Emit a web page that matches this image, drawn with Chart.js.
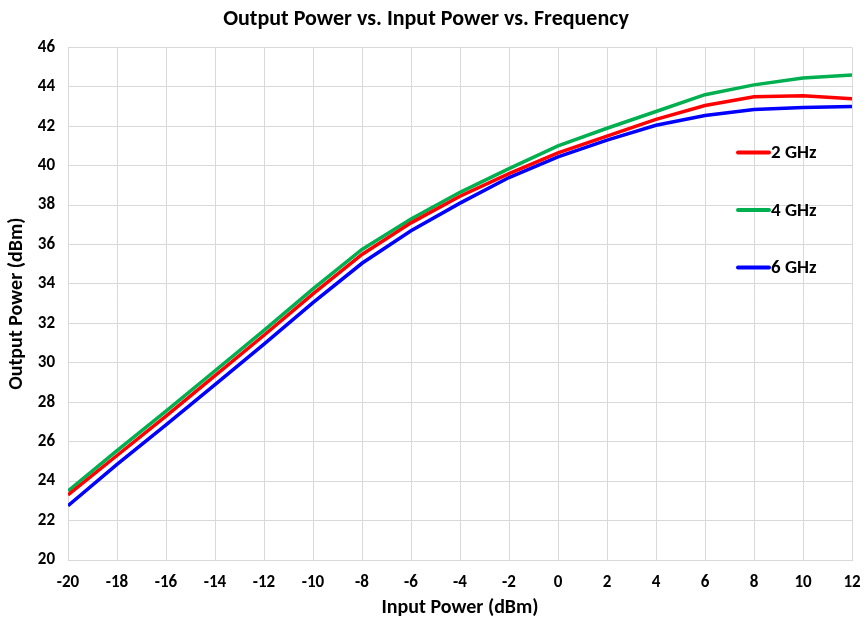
<!DOCTYPE html>
<html>
<head>
<meta charset="utf-8">
<script src="https://cdn.jsdelivr.net/npm/chart.js@4/dist/chart.umd.min.js"></script>
<style>
  body { margin: 0; background: #fff; }
  #wrap { width: 866px; height: 624px; }
</style>
</head>
<body>
<div id="wrap"><canvas id="pout-vs-pin" width="866" height="624"></canvas></div>
<script>
// input power sweep (dBm)
var inputPower = [-20, -18, -16, -14, -12, -10, -8, -6, -4, -2, 0, 2, 4, 6, 8, 10, 12];

// output power (dBm) per frequency
var out2GHz = [23.3, 25.3, 27.3, 29.35, 31.4, 33.5, 35.5, 37.1, 38.45, 39.6, 40.65, 41.5, 42.35, 43.05, 43.5, 43.55, 43.4];
var out4GHz = [23.5, 25.55, 27.55, 29.6, 31.65, 33.75, 35.75, 37.3, 38.65, 39.85, 41.0, 41.9, 42.75, 43.6, 44.1, 44.45, 44.6];
var out6GHz = [22.75, 24.85, 26.85, 28.9, 30.95, 33.05, 35.05, 36.7, 38.1, 39.4, 40.45, 41.3, 42.05, 42.55, 42.85, 42.95, 43.0];

var seriesLabels = ["2 GHz", "4 GHz", "6 GHz"];
var seriesColors = ["#ff0000", "#00b050", "#0000ff"];

var fontFamily = "Carlito, 'Liberation Sans Narrow', 'Open Sans', sans-serif";
var gridColor = "#d9d9d9";

function toPoints(ys) {
  return inputPower.map(function (x, i) { return { x: x, y: ys[i] }; });
}

// legend sits inside the plot, to the right
var insideLegend = {
  id: 'insideLegend',
  afterDatasetsDraw: function (chart) {
    var ctx = chart.ctx;
    var area = chart.chartArea;
    ctx.save();
    chart.data.datasets.forEach(function (ds, i) {
      var y = area.top + 105 + i * 57.5;
      ctx.strokeStyle = ds.borderColor;
      ctx.lineWidth = 4;
      ctx.lineCap = 'round';
      ctx.beginPath();
      ctx.moveTo(area.right - 114, y);
      ctx.lineTo(area.right - 83, y);
      ctx.stroke();
      ctx.fillStyle = '#000';
      ctx.font = "bold 19px " + fontFamily;
      ctx.textBaseline = 'middle';
      ctx.fillText(ds.label, area.right - 81, y + 1);
    });
    ctx.restore();
  }
};

var ctx = document.getElementById("pout-vs-pin");
var chart = new Chart(ctx, {
  type: 'line',
  data: {
    datasets: [
      { label: seriesLabels[0], data: toPoints(out2GHz), borderColor: seriesColors[0] },
      { label: seriesLabels[1], data: toPoints(out4GHz), borderColor: seriesColors[1] },
      { label: seriesLabels[2], data: toPoints(out6GHz), borderColor: seriesColors[2] }
    ]
  },
  options: {
    responsive: false,
    animation: false,
    layout: { padding: { left: 0, right: 14, top: 0, bottom: 0 } },
    elements: {
      line: { borderWidth: 3.5, tension: 0, fill: false },
      point: { radius: 0 }
    },
    plugins: {
      legend: { display: false },
      tooltip: { enabled: false },
      title: {
        display: true,
        text: "Output Power vs. Input Power vs. Frequency",
        color: '#000',
        font: { family: fontFamily, size: 22, weight: 'bold' },
        padding: { top: 6, bottom: 15 }
      }
    },
    scales: {
      x: {
        type: 'linear',
        min: -20,
        max: 12,
        grid: { color: gridColor, lineWidth: 1, drawTicks: false },
        border: { color: gridColor, width: 1 },
        ticks: {
          stepSize: 2,
          padding: 13,
          color: '#000',
          font: { family: fontFamily, size: 17, weight: 'bold' }
        },
        title: {
          display: true,
          text: "Input Power (dBm)",
          color: '#000',
          font: { family: fontFamily, size: 20, weight: 'bold' },
          padding: { top: 0, bottom: 4 }
        },
        afterFit: function (scale) {
          scale.height = 64;
          scale.paddingLeft = 0;
          scale.paddingRight = 0;
        }
      },
      y: {
        min: 20,
        max: 46,
        grid: { color: gridColor, lineWidth: 1, drawTicks: false },
        border: { color: gridColor, width: 1 },
        ticks: {
          stepSize: 2,
          padding: 13,
          color: '#000',
          font: { family: fontFamily, size: 17, weight: 'bold' }
        },
        title: {
          display: true,
          text: "Output Power (dBm)",
          color: '#000',
          font: { family: fontFamily, size: 20, weight: 'bold' },
          padding: { top: 5, bottom: 0 }
        },
        afterFit: function (scale) { scale.width = 68; }
      }
    }
  },
  plugins: [insideLegend]
});
</script>
</body>
</html>
